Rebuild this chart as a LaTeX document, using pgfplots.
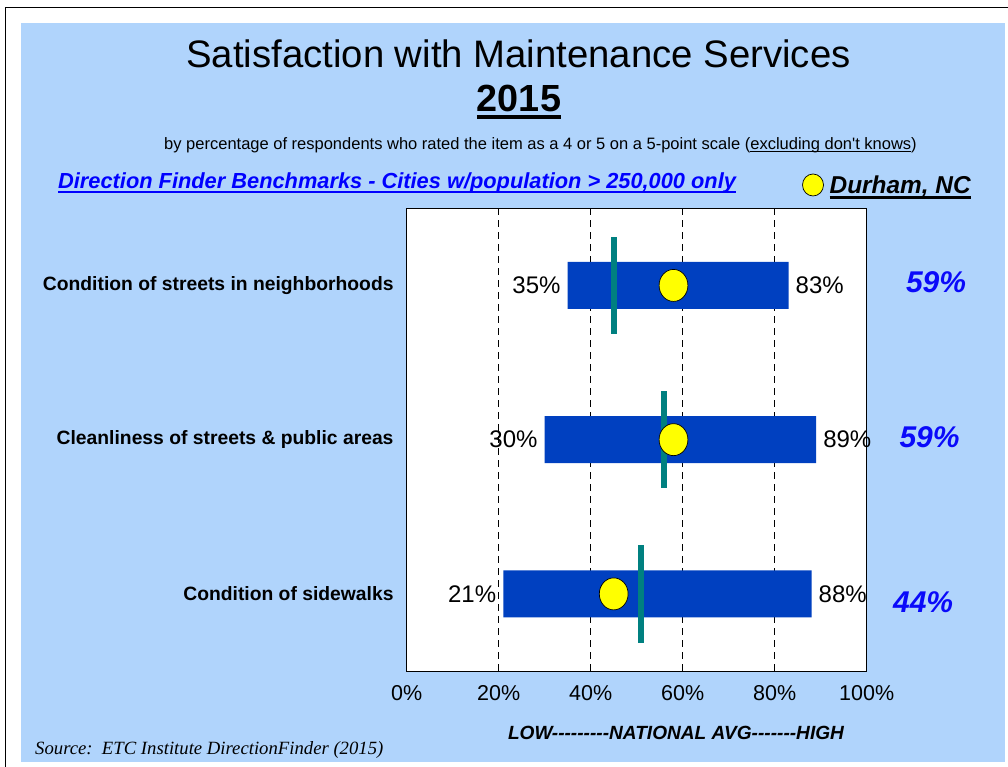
\documentclass[border=0pt]{standalone}
\usepackage{pgfplots}
\pgfplotsset{compat=1.18}
\usepackage{pgfplotstable}
\usepackage{fontspec}
\setmainfont{Liberation Sans}[Ligatures=TeXOff]
\newfontfamily\seriffont{Liberation Serif}
\definecolor{bgblue}{RGB}{176,212,252}
\definecolor{barblue}{RGB}{0,64,192}
\definecolor{avgteal}{RGB}{0,128,128}
\definecolor{durhamblue}{RGB}{10,10,250}
\definecolor{linkblue}{RGB}{0,0,255}
\definecolor{dotyellow}{RGB}{255,255,0}
\newcommand{\myul}[3]{\begingroup\setbox0\hbox{#1}\rlap{\rule[#2]{\wd0}{#3}}\box0\endgroup}

\pgfplotstableread{
row low high avg durham
0 35 83 45 58
1 30 89 56 58
2 21 88 51 45
}\datatable

\begin{document}
\begin{tikzpicture}
\useasboundingbox (0,0) rectangle (1008bp,767bp);
\fill[white] (0,0) rectangle (1008bp,767bp);
\fill[bgblue] (21bp,5bp) rectangle (1005bp,744bp);
\draw[black, line width=1.3bp] (5.5bp,0bp) -- (5.5bp,759.5bp) -- (1008bp,759.5bp);

\begin{axis}[
  at={(406.7bp,96bp)}, anchor=south west,
  width=460bp, height=462.7bp, scale only axis,
  xmin=0, xmax=100, ymin=-0.5, ymax=2.5, y dir=reverse,
  xbar stacked, bar width=47bp,
  xtick={0,20,40,60,80,100},
  xticklabels={0\%,20\%,40\%,60\%,80\%,100\%},
  ytick={0,1,2},
  yticklabels={Condition of streets in neighborhoods,Cleanliness of streets \& public areas,Condition of sidewalks},
  major tick length=0pt,
  xmajorgrids=true,
  major grid style={black, line width=0.8bp, dash pattern=on 7bp off 5bp},
  axis line style={black, line width=1bp},
  axis background/.style={fill=white},
  xticklabel style={font=\fontsize{21.5bp}{26bp}\selectfont, anchor=base, yshift=-29.5bp, inner sep=0pt},
  yticklabel style={font=\bfseries\fontsize{19.3bp}{23bp}\selectfont, anchor=east, inner sep=0pt, xshift=-13bp},
]
\addplot[draw=none, fill=none] table[x=low, y=row] {\datatable};
\addplot[fill=barblue, draw=none] table[x expr=\thisrow{high}-\thisrow{low}, y=row] {\datatable};
\end{axis}

\begin{axis}[
  at={(406.7bp,96bp)}, anchor=south west,
  width=460bp, height=462.7bp, scale only axis,
  xmin=0, xmax=100, ymin=-0.5, ymax=2.5, y dir=reverse,
  hide axis, clip=false,
  legend cell align=left,
  legend style={at={(0.8597,1.0504)}, anchor=west, draw=none, fill=none, inner sep=0pt, outer sep=0pt, nodes={inner sep=0pt}, font=\bfseries\itshape\fontsize{24.4bp}{29bp}\selectfont},
]
\addplot[forget plot, draw=none, mark=none,
  error bars/.cd, y dir=both, y fixed=0.316, error mark=none,
  error bar style={draw=avgteal, line width=6bp}] table[x=avg, y=row] {\datatable};
\addplot[only marks, mark=*, mark size=16bp,
  mark options={fill=dotyellow, draw=black, line width=0.7bp, xscale=0.9},
  legend image code/.code={\draw[fill=dotyellow, draw=black, line width=0.7bp] (0bp,0bp) ellipse [x radius=10.5bp, y radius=11bp]; \path (16.5bp,0bp);}]
  table[x=durham, y=row] {\datatable};
\addlegendentry{\myul{Durham, NC}{-5.6bp}{3bp}}
\addplot[forget plot, draw=none, mark=none, point meta=explicit symbolic,
  nodes near coords={\pgfplotspointmeta\%},
  nodes near coords style={anchor=east, inner xsep=7bp, inner ysep=0pt, text=black, font=\fontsize{24bp}{29bp}\selectfont}]
  table[x=low, y=row, meta=low] {\datatable};
\addplot[forget plot, draw=none, mark=none, point meta=explicit symbolic,
  nodes near coords={\pgfplotspointmeta\%},
  nodes near coords style={anchor=west, inner xsep=7bp, inner ysep=0pt, text=black, font=\fontsize{24bp}{29bp}\selectfont}]
  table[x=high, y=row, meta=high] {\datatable};
\node[anchor=base west, inner sep=0pt, text=durhamblue, font=\bfseries\itshape\fontsize{30bp}{36bp}\selectfont] at (axis cs:108.5,0) [yshift=-6.7bp] {59\%};
\node[anchor=base west, inner sep=0pt, text=durhamblue, font=\bfseries\itshape\fontsize{30bp}{36bp}\selectfont] at (axis cs:107.1,1) [yshift=-7.8bp] {59\%};
\node[anchor=base west, inner sep=0pt, text=durhamblue, font=\bfseries\itshape\fontsize{30bp}{36bp}\selectfont] at (axis cs:105.7,2) [yshift=-18.7bp] {44\%};
\end{axis}

\node[anchor=base, inner sep=0pt] at (518.5bp,699bp) {\fontsize{38.3bp}{46bp}\selectfont Satisfaction with Maintenance Services};
\node[anchor=base, inner sep=0pt] at (519bp,655.5bp) {\fontsize{37.8bp}{45bp}\selectfont\bfseries\myul{2015}{-7.5bp}{4bp}};
\node[anchor=base, inner sep=0pt] at (540.5bp,617bp) {\fontsize{16.5bp}{20bp}\selectfont by percentage of respondents who rated the item as a 4 or 5 on a 5-point scale (\myul{excluding don't knows}{-2.5bp}{1bp})};
\node[anchor=base west, inner sep=0pt] at (58bp,578bp) {\color{linkblue}\bfseries\itshape\fontsize{21.8bp}{26bp}\selectfont\myul{Direction Finder Benchmarks - Cities w/population > 250,000 only}{-4bp}{2bp}};
\node[anchor=base, inner sep=0pt] at (676bp,28bp) {\bfseries\itshape\fontsize{19.1bp}{23bp}\selectfont LOW---------NATIONAL AVG-------HIGH};
\node[anchor=base west, inner sep=0pt] at (35bp,13bp) {\seriffont\itshape\fontsize{18.7bp}{22bp}\selectfont Source:\ \ ETC Institute DirectionFinder (2015)};
\end{tikzpicture}
\end{document}
